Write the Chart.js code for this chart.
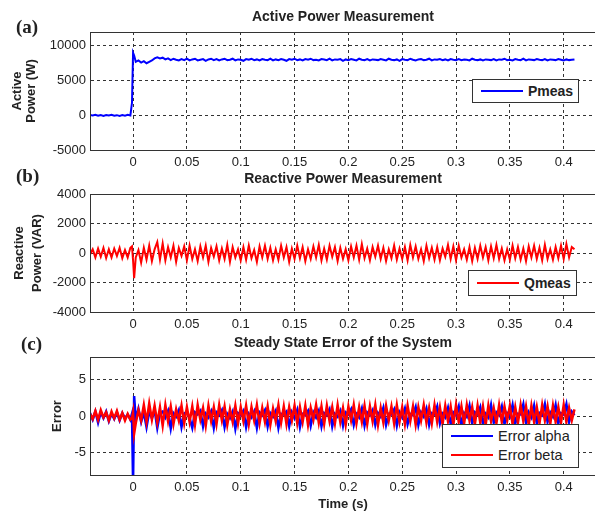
<!DOCTYPE html>
<html>
<head>
<meta charset="utf-8">
<script src="https://cdn.jsdelivr.net/npm/chart.js@4/dist/chart.umd.min.js"></script>
<style>
  html, body { margin:0; padding:0; background:#fff; overflow:hidden; }
  #wrap { position:relative; width:595px; height:512px; overflow:hidden; background:#fff; }
  canvas { position:absolute; left:0; }
  .ttl { position:absolute; left:90px; width:506px; text-align:center; font:bold 14px "Liberation Sans", Arial, sans-serif; color:#222; line-height:16px; }
  .pl { position:absolute; font:bold 19px "Liberation Serif", "Times New Roman", serif; color:#222; line-height:20px; }
  .lg { position:absolute; background:#fff; border:1px solid #333; box-sizing:border-box; }
  .lg .row { position:absolute; left:0; height:18px; display:flex; align-items:center; }
  .lg .ln { display:inline-block; width:42px; height:2px; margin-left:8px; margin-right:5px; }
  .lg .tx { font:bold 14px "Liberation Sans", Arial, sans-serif; color:#222; white-space:nowrap; }
  .lg .tx.n { font-weight:normal; font-size:14.5px; }
</style>
</head>
<body>
<div id="wrap">
  <canvas id="cA" width="600" height="170" style="top:0px"></canvas>
  <canvas id="cB" width="600" height="170" style="top:162px"></canvas>
  <canvas id="cC" width="600" height="187" style="top:325px"></canvas>

  <div class="ttl" style="top:8px">Active Power Measurement</div>
  <div class="ttl" style="top:170px">Reactive Power Measurement</div>
  <div class="ttl" style="top:334px">Steady State Error of the System</div>

  <div class="pl" style="left:16px; top:17px">(a)</div>
  <div class="pl" style="left:16px; top:166px">(b)</div>
  <div class="pl" style="left:21px; top:334px">(c)</div>

  <div class="lg" style="left:472px; top:79px; width:107px; height:24px">
    <div class="row" style="top:2px"><span class="ln" style="background:#0000ff"></span><span class="tx">Pmeas</span></div>
  </div>
  <div class="lg" style="left:468px; top:270px; width:109px; height:26px">
    <div class="row" style="top:3px"><span class="ln" style="background:#ff0000"></span><span class="tx">Qmeas</span></div>
  </div>
  <div class="lg" style="left:442px; top:424px; width:137px; height:44px">
    <div class="row" style="top:2px"><span class="ln" style="background:#0000ff;height:2.5px"></span><span class="tx n">Error alpha</span></div>
    <div class="row" style="top:21px"><span class="ln" style="background:#ff0000;height:2.5px"></span><span class="tx n">Error beta</span></div>
  </div>
</div>
<script>
// ---------------- DATA ----------------
const sampleTimes = [
  -0.04,-0.0375,-0.035,-0.0325,-0.03,-0.0275,-0.025,-0.0225,-0.02,-0.0175,-0.015,-0.0125,-0.01,-0.0075,-0.005,-0.0025,
  -0.001,0,0.001,
  0.0025,0.005,0.0075,0.01,0.0125,0.015,0.0175,0.02,0.0225,0.025,
  0.0275,0.03,0.0325,0.035,0.0375,0.04,0.0425,0.045,0.0475,0.05,
  0.0525,0.055,0.0575,0.06,0.0625,0.065,0.0675,0.07,0.0725,0.075,
  0.0775,0.08,0.0825,0.085,0.0875,0.09,0.0925,0.095,0.0975,0.1,
  0.1025,0.105,0.1075,0.11,0.1125,0.115,0.1175,0.12,0.1225,0.125,
  0.1275,0.13,0.1325,0.135,0.1375,0.14,0.1425,0.145,0.1475,0.15,
  0.1525,0.155,0.1575,0.16,0.1625,0.165,0.1675,0.17,0.1725,0.175,
  0.1775,0.18,0.1825,0.185,0.1875,0.19,0.1925,0.195,0.1975,0.2,
  0.2025,0.205,0.2075,0.21,0.2125,0.215,0.2175,0.22,0.2225,0.225,
  0.2275,0.23,0.2325,0.235,0.2375,0.24,0.2425,0.245,0.2475,0.25,
  0.2525,0.255,0.2575,0.26,0.2625,0.265,0.2675,0.27,0.2725,0.275,
  0.2775,0.28,0.2825,0.285,0.2875,0.29,0.2925,0.295,0.2975,0.3,
  0.3025,0.305,0.3075,0.31,0.3125,0.315,0.3175,0.32,0.3225,0.325,
  0.3275,0.33,0.3325,0.335,0.3375,0.34,0.3425,0.345,0.3475,0.35,
  0.3525,0.355,0.3575,0.36,0.3625,0.365,0.3675,0.37,0.3725,0.375,
  0.3775,0.38,0.3825,0.385,0.3875,0.39,0.3925,0.395,0.3975,0.4,
  0.4025,0.405,0.4075,0.41
];

const pMeas = [
  60,-40,80,-70,30,-90,50,-30,70,-60,20,-80,40,-50,60,-20,
  1800,9000,8600,
  7700,7900,7600,7800,7500,7700,7900,8200,8350,8200,
  8300,8050,8200,7950,8150,8000,7900,8100,7950,8150,
  7900,8050,8150,7900,8000,8100,7850,8050,8150,7950,
  8100,7900,8050,8150,7950,8000,8150,7900,8050,8000,
  7850,8100,8000,8150,7950,8050,7900,8100,8000,7950,
  8150,7900,8050,7950,8100,8000,7850,8100,8000,8150,
  7950,8050,7900,8100,8000,8150,7950,8000,7900,8100,
  8050,7950,8150,7900,8050,8000,8100,7850,8050,7950,
  8100,8000,7900,8150,8000,7950,8100,7900,8050,8000,
  7950,8100,8000,7900,8150,8000,7950,8050,7850,8100,
  8000,7950,8150,8000,7900,8050,8100,7950,8000,8150,
  7900,8050,8000,8100,7950,8050,7900,8100,8000,7950,
  8100,7950,8050,8000,7900,8150,8000,7950,8050,7900,
  8050,8000,7950,8100,7900,8050,8000,8150,7950,8000,
  7900,8100,8000,7950,8150,7900,8050,8000,7950,8100,
  8000,7950,8100,7900,8050,8000,7950,8100,8000,7900,
  8050,7950,8000,8050
];

const qMeas = [
  -100,250,-300,300,-250,350,-350,250,-300,300,-200,350,-350,200,-300,350,
  450,-500,-1700,
  -300,200,-650,350,-450,500,-550,250,750,-450,
  650,-500,400,-300,500,-600,350,-200,450,-500,
  500,-400,250,-550,450,-300,500,-600,350,-250,
  450,-500,300,-400,550,-600,400,-300,250,-500,
  400,-450,500,-350,200,-600,450,-300,500,-400,
  350,-500,250,-450,500,-300,400,-600,300,-400,
  500,-350,400,-550,250,-400,450,-300,550,-500,
  300,-450,500,-250,400,-550,350,-400,250,-500,
  450,-300,500,-450,600,-350,300,-500,400,-250,
  500,-400,350,-550,250,-350,500,-450,300,-400,
  400,-500,550,-300,450,-400,250,-550,500,-350,
  350,-450,400,-500,300,-250,550,-400,450,-500,
  500,-300,250,-450,400,-550,350,-400,500,-300,
  400,-500,450,-350,550,-400,300,-500,250,-450,
  500,-350,400,-450,300,-550,450,-300,500,-400,
  350,-500,550,-400,250,-450,400,-350,500,-400,
  600,-300,400,250
];

const errorAlpha = [
  0.4,-0.5,0.6,-0.9,0.5,-0.3,0.6,-0.7,0.3,-0.4,0.5,-0.6,0.4,-0.3,0.2,-0.5,
  0.3,-9,2.7,
  -0.5,1.0,-0.8,0.5,-1.5,0.6,-0.3,0.8,-1.6,0.4,
  0.6,-0.2,0.7,-1.7,0.4,-0.1,0.8,-1.5,0.3,0.6,
  -0.3,-1.6,0.5,0.2,0.7,-1.4,0.3,-0.2,0.6,-1.6,
  0.5,0.1,0.8,-1.5,0.3,-0.3,0.6,-1.7,0.4,0.1,
  0.7,-1.5,0.3,-0.2,0.6,-1.6,0.5,0.1,0.8,-1.4,
  0.4,-0.1,0.7,-1.6,0.3,0.2,0.6,-1.4,0.5,-0.3,
  0.8,-1.5,0.3,0.1,0.7,-1.3,0.5,-0.2,0.7,-1.4,
  0.4,0.1,0.9,-1.4,0.3,-0.1,0.7,-1.3,0.5,0.2,
  0.9,-1.2,0.3,-0.2,1.0,-1.3,0.5,0.1,0.8,-1.2,
  0.4,-0.1,1.1,-1.2,0.3,0.2,0.9,-1.3,0.5,-0.2,
  1.0,-1.1,0.3,0.1,1.2,-1.2,0.5,-0.1,1.0,-1.2,
  0.4,0.2,1.3,-1.0,0.3,-0.2,1.1,-1.1,0.5,0.1,
  1.3,-1.2,0.4,-0.1,1.4,-1.0,0.5,0.2,1.2,-1.1,
  0.3,-0.2,1.5,-0.9,0.5,0.1,1.3,-1.1,0.4,-0.1,
  1.5,-1.0,0.3,0.2,1.6,-0.9,0.5,-0.2,1.4,-1.0,
  0.4,0.1,1.6,-0.8,0.5,-0.1,1.5,-1.0,0.4,0.2,
  1.6,-0.8,0.6,0.1
];

const errorBeta = [
  0.3,-0.4,0.7,-0.5,0.8,-0.2,0.5,-0.6,0.6,-0.3,0.7,-0.5,0.4,-0.6,0.3,-0.5,
  -0.3,0.5,-2.4,
  -1.0,0.8,-0.6,1.5,-0.8,1.7,-0.5,1.4,-0.9,1.2,
  -1.3,1.5,-0.7,1.3,-1.1,0.9,-0.6,1.4,-1.0,1.2,
  -0.8,1.3,-1.2,1.5,-0.5,1.1,-1.3,1.4,-0.7,1.2,
  -1.1,1.5,-0.6,1.3,-1.2,0.9,-0.8,1.4,-1.0,1.2,
  -0.7,1.4,-1.1,1.2,-0.6,1.5,-1.0,1.1,-0.8,1.3,
  -1.2,1.0,-0.7,1.5,-0.9,1.3,-1.1,1.2,-0.6,1.4,
  -1.0,1.2,-0.8,1.4,-1.2,1.1,-0.5,1.5,-0.9,1.3,
  -1.1,1.4,-0.7,1.2,-1.0,1.5,-0.8,1.1,-1.2,1.3,
  -0.6,1.5,-1.0,1.2,-0.8,1.4,-1.1,1.3,-0.7,1.5,
  -1.2,1.1,-0.9,1.4,-0.6,1.3,-1.0,1.5,-0.8,1.2,
  -1.1,1.4,-0.7,1.3,-1.2,1.2,-0.6,1.5,-0.9,1.1,
  -1.0,1.5,-0.8,1.2,-1.1,1.4,-0.7,1.3,-1.2,1.5,
  -0.8,1.3,-1.0,1.5,-0.6,1.2,-1.1,1.4,-0.9,1.3,
  -1.2,1.4,-0.7,1.1,-1.0,1.5,-0.8,1.3,-0.6,1.4,
  -1.1,1.2,-0.9,1.5,-0.7,1.3,-1.2,1.4,-0.8,1.2,
  -1.0,1.5,-0.6,1.3,-1.1,1.4,-0.8,1.2,-0.9,1.5,
  -0.8,1.1,-0.6,0.9
];

const timeTicks = [0,0.05,0.1,0.15,0.2,0.25,0.3,0.35,0.4];
const pTicks = [-5000,0,5000,10000];
const qTicks = [-4000,-2000,0,2000,4000];
const errTicks = [-5,0,5];

// ---------------- CHART SETUP ----------------
const FONT = '"Liberation Sans", Arial, sans-serif';
const INK = '#222';
const LINE = '#333';

function pts(series) { return sampleTimes.map((t, i) => ({ x: t, y: series[i] })); }

const boxPlugin = {
  id: 'box',
  afterDatasetsDraw(chart) {
    const a = chart.chartArea, c = chart.ctx;
    c.save();
    c.strokeStyle = LINE; c.lineWidth = 1;
    c.strokeRect(Math.round(a.left) + 0.5, Math.round(a.top) + 0.5, a.right - a.left, a.bottom - a.top);
    c.restore();
  }
};

function makeChart(id, datasets, yMin, yMax, yTicks, yTitle, yTitleFont, yTitlePad, xTitle, xHeight) {
  return new Chart(document.getElementById(id), {
    type: 'line',
    data: { datasets },
    options: {
      responsive: false, animation: false, devicePixelRatio: 1,
      layout: { padding: { top: 32, right: 4, left: 0, bottom: 0 } },
      plugins: { legend: { display: false }, tooltip: { enabled: false }, title: { display: false } },
      elements: { point: { radius: 0 }, line: { tension: 0 } },
      scales: {
        x: {
          type: 'linear', min: -0.04, max: 0.43,
          afterBuildTicks: s => { s.ticks = timeTicks.map(v => ({ value: v })); },
          afterFit: s => { s.height = xHeight; },
          ticks: { font: { family: FONT, size: 13 }, color: INK, padding: 5, maxRotation: 0, autoSkip: false,
                   callback: v => String(+v.toFixed(2)) },
          grid: { color: LINE, lineWidth: 1, drawTicks: false },
          border: { display: true, color: LINE, width: 1, dash: [3, 3] },
          title: xTitle ? { display: true, text: xTitle, color: INK, padding: { top: 0, bottom: 0 },
                            font: { family: FONT, size: 13, weight: 'bold' } } : { display: false }
        },
        y: {
          type: 'linear', min: yMin, max: yMax,
          afterBuildTicks: s => { s.ticks = yTicks.map(v => ({ value: v })); },
          afterFit: s => { s.width = 90; },
          ticks: { font: { family: FONT, size: 13 }, color: INK, padding: 4, autoSkip: false,
                   callback: v => String(v) },
          grid: { color: LINE, lineWidth: 1, drawTicks: false },
          border: { display: true, color: LINE, width: 1, dash: [3, 3] },
          title: { display: true, text: yTitle, color: INK, padding: { top: yTitlePad, bottom: 0 }, font: yTitleFont }
        }
      }
    },
    plugins: [boxPlugin]
  });
}

makeChart('cA',
  [{ label: 'Pmeas', data: pts(pMeas), borderColor: '#0000ff', borderWidth: 2 }],
  -5000, 12000, pTicks, ['Active', 'Power (W)'],
  { family: FONT, size: 13, weight: 'bold', lineHeight: 1.12 }, 10, null, 20);

makeChart('cB',
  [{ label: 'Qmeas', data: pts(qMeas), borderColor: '#ff0000', borderWidth: 2 }],
  -4000, 4000, qTicks, ['Reactive', 'Power (VAR)'],
  { family: FONT, size: 13, weight: 'bold', lineHeight: 1.4 }, 10, null, 20);

makeChart('cC',
  [{ label: 'Error alpha', data: pts(errorAlpha), borderColor: '#0000ff', borderWidth: 2.5, order: 1 },
   { label: 'Error beta', data: pts(errorBeta), borderColor: '#ff0000', borderWidth: 2.5, order: 0 }],
  -8, 8, errTicks, 'Error',
  { family: FONT, size: 13, weight: 'bold', lineHeight: 1.2 }, 50, 'Time (s)', 37);
</script>
</body>
</html>
